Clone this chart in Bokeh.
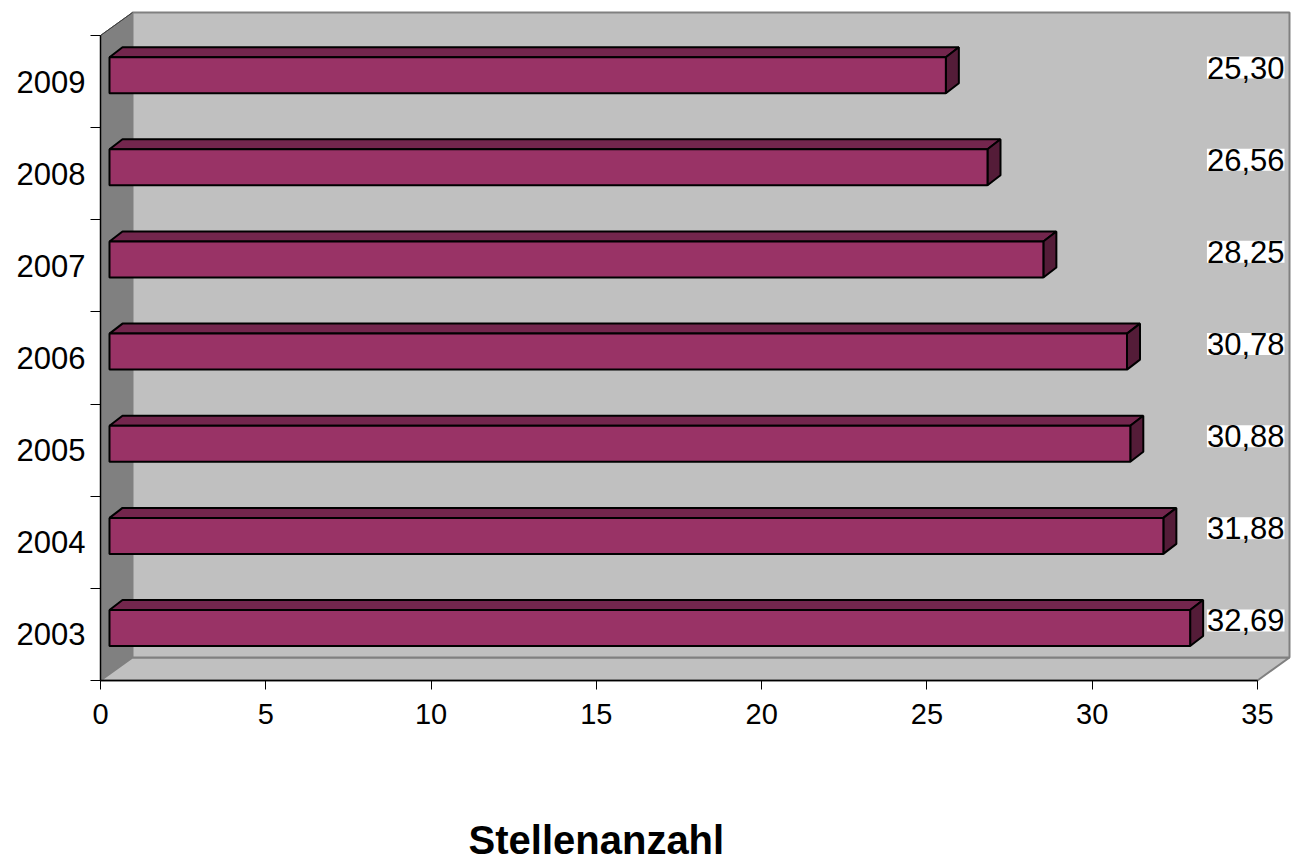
from bokeh.plotting import figure
from bokeh.models import FixedTicker, Range1d, ColumnDataSource, LabelSet
from bokeh.core.properties import value
from bokeh.embed import file_html
from bokeh.resources import INLINE

# ---- data ----
years = ["2003", "2004", "2005", "2006", "2007", "2008", "2009"]
values = [32.69, 31.88, 30.88, 30.78, 28.25, 26.56, 25.30]
x_ticks = [0, 5, 10, 15, 20, 25, 30, 35]
title_text = "Stellenanzahl"

# ---- layout constants (pixels) ----
W, H = 1303, 865
AXIS_X = 100                      # pixel column of the category axis
AXIS_Y = 680                      # pixel row of the value axis
X_MAX = 35.0
N = len(years)
PX_X = 1157.0 / X_MAX           # px per value unit
PX_Y = 645.0 / N                # px per category
X_START = -AXIS_X / PX_X
X_END = (W - AXIS_X) / PX_X
Y_END = AXIS_Y / PX_Y
Y_START = -(H - AXIS_Y) / PX_Y

WDX, WDY = 32 / PX_X, 23 / PX_Y          # wall depth
BFX, BFY = 9 / PX_X, 6.4 / PX_Y          # bar front offset
BDX, BDY = 13 / PX_X, 10 / PX_Y          # bar depth
BAR_H = 36 / PX_Y

FONT = "Liberation Sans"

p = figure(width=W, height=H, output_backend="svg", toolbar_location=None,
           x_range=Range1d(X_START, X_END), y_range=Range1d(Y_START, Y_END),
           min_border_left=0, min_border_right=0,
           min_border_top=0, min_border_bottom=0)
p.grid.visible = False
p.outline_line_color = None
p.background_fill_color = "white"
p.border_fill_color = "white"

# ---- walls ----
p.patch([0, 0, WDX, WDX], [0, N, N + WDY, WDY], fill_color="#808080",
        line_color="#505050", line_width=1)
p.patch([0, X_MAX, X_MAX + WDX, WDX], [0, 0, WDY, WDY], fill_color="#C0C0C0",
        line_color="#808080", line_width=2)
p.quad(left=[WDX], right=[X_MAX + WDX], bottom=[WDY], top=[N + WDY],
       fill_color="#C0C0C0", line_color="#808080", line_width=2)
p.line([0, WDX], [N, N + WDY], line_color="#404040", line_width=1)

# ---- bars ----
tx, tyy, sx, sy = [], [], [], []
lefts, rights, bots, tops = [], [], [], []
for i, v in enumerate(values):
    c = i + 0.5
    b = c - BAR_H / 2 + BFY
    t = c + BAR_H / 2 + BFY
    l = BFX
    r = v + BFX
    lefts.append(l); rights.append(r); bots.append(b); tops.append(t)
    tx.append([l, r, r + BDX, l + BDX])
    tyy.append([t, t, t + BDY, t + BDY])
    sx.append([r, r, r + BDX, r + BDX])
    sy.append([b, t, t + BDY, b + BDY])

p.patches(tx, tyy, fill_color="#73264D", line_color="black", line_width=2)
p.patches(sx, sy, fill_color="#541C38", line_color="black", line_width=2)
p.quad(left=lefts, right=rights, bottom=bots, top=tops,
       fill_color="#993366", line_color="black", line_width=2)

# ---- value labels ----
src = ColumnDataSource(dict(
    x=[X_MAX] * N,
    y=[i + 0.5 for i in range(N)],
    t=[f"{v:.2f}".replace(".", ",") for v in values]))
labels = LabelSet(x="x", y="y", text="t", source=src, x_offset=27, y_offset=14,
                  text_align="right", text_baseline="middle",
                  text_font=value(FONT), text_font_size=value("31px"),
                  text_color="black",
                  background_fill_color="white")
p.add_layout(labels)

# ---- axes ----
xa = p.xaxis[0]
xa.fixed_location = 0
xa.ticker = FixedTicker(ticks=x_ticks)
xa.bounds = (0, X_MAX)
xa.axis_line_color = "black"
xa.axis_line_width = 1.5
xa.major_tick_out = 9
xa.major_tick_in = 0
xa.minor_tick_out = 0
xa.minor_tick_in = 0
xa.major_label_standoff = 14
xa.major_label_text_font = FONT
xa.major_label_text_font_size = "29px"
xa.major_label_text_color = "black"

ya = p.yaxis[0]
ya.fixed_location = 0
ya.ticker = FixedTicker(ticks=[i + 0.5 for i in range(N)],
                        minor_ticks=list(range(N + 1)))
ya.major_label_overrides = {i + 0.5: y for i, y in enumerate(years)}
ya.bounds = (0, N)
ya.axis_line_color = "black"
ya.axis_line_width = 1.5
ya.major_tick_out = 0
ya.major_tick_in = 0
ya.minor_tick_out = 10
ya.minor_tick_in = 0
ya.minor_tick_line_color = "black"
ya.major_label_standoff = 5
ya.major_label_text_font = FONT
ya.major_label_text_font_size = "31px"
ya.major_label_text_color = "black"

# ---- title ----
p.text(x=[15.0], y=[(AXIS_Y - 839) / PX_Y], text=[title_text],
       text_align="center", text_baseline="middle",
       text_font=value(FONT), text_font_size="40px", text_font_style="bold",
       text_color="black")

open("out.html", "w").write(file_html(p, INLINE))
